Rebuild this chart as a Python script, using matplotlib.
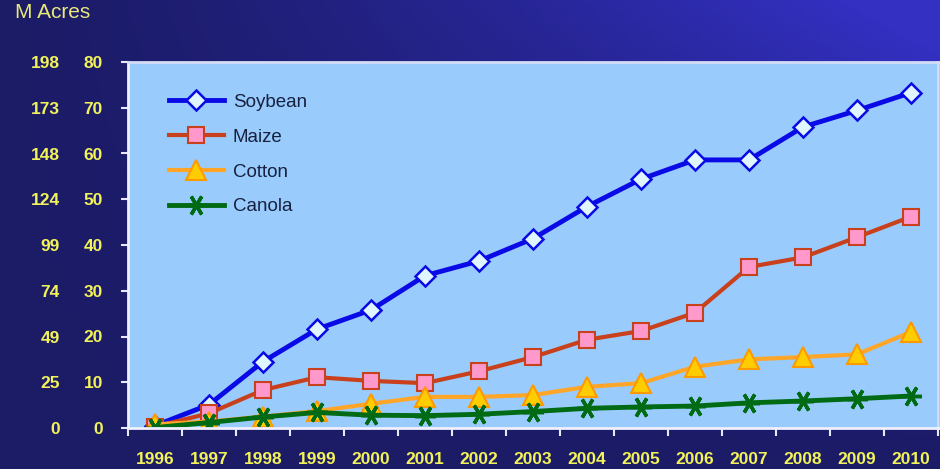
import numpy as np
import matplotlib.pyplot as plt

# Area plantada com cultivos transgenicos (milhoes de hectares)
anos = ['1996', '1997', '1998', '1999', '2000', '2001', '2002', '2003',
        '2004', '2005', '2006', '2007', '2008', '2009', '2010']
soja = [0.5, 5.1, 14.5, 21.6, 25.8, 33.3, 36.5, 41.4, 48.4, 54.4, 58.6, 58.6, 65.8, 69.4, 73.3]
milho = [0.3, 3.2, 8.3, 11.1, 10.3, 9.8, 12.4, 15.5, 19.3, 21.2, 25.2, 35.2, 37.3, 41.7, 46.2]
algodao = [0.8, 1.4, 2.5, 3.7, 5.3, 6.8, 6.8, 7.2, 9.0, 9.8, 13.4, 15.0, 15.5, 16.1, 21.0]
canola = [0.1, 1.2, 2.4, 3.4, 2.8, 2.7, 3.0, 3.6, 4.3, 4.6, 4.8, 5.5, 5.9, 6.4, 7.0]

ticksHa = [0, 10, 20, 30, 40, 50, 60, 70, 80]
ticksAcres = ['0', '25', '49', '74', '99', '124', '148', '173', '198']

amarelo = '#f2f25a'
fonte = 'Liberation Sans'

fig = plt.figure(figsize=(9.4, 4.69), dpi=100)

# fundo degradê azul escuro -> azul mais claro no canto superior direito
gx, gy = np.meshgrid(np.linspace(0, 1, 300), np.linspace(0, 1, 150))
t = np.clip(gx ** 1.3 * (1 - gy) ** 1.2 * 1.15, 0, 1)
escuro = np.array([0x1b, 0x1b, 0x66]) / 255.0
claro = np.array([0x33, 0x30, 0xc2]) / 255.0
grad = escuro[None, None, :] * (1 - t[..., None]) + claro[None, None, :] * t[..., None]
bg = fig.add_axes([0, 0, 1, 1], zorder=-10)
bg.imshow(grad, aspect='auto', extent=[0, 1, 0, 1], origin='upper')
bg.axis('off')

ax = fig.add_axes([128 / 940, 1 - 428 / 469, 810 / 940, 366 / 469])
ax.set_facecolor('#99ccfc')

x = np.arange(len(anos))
ax.plot(x, soja, color='#0a0ae6', lw=3.5, marker='D', ms=10,
        mfc='#dff6ff', mec='#0a0ae6', mew=1.8, label='Soybean')
ax.plot(x, milho, color='#c8401c', lw=3, marker='s', ms=12,
        mfc='#ff99cc', mec='#c8401c', mew=1.5, label='Maize')
ax.plot(x, algodao, color='#ffa528', lw=3, marker='^', ms=14,
        mfc='#ffcc00', mec='#ff9900', mew=1.5, label='Cotton')
ax.plot(x, canola, color='#006b14', lw=3.5, marker=(6, 2, 30), ms=15,
        mec='#006b14', mew=2.5, label='Canola')

ax.set_xlim(-0.5, len(anos) - 0.5)
ax.set_ylim(0, 80)

ax.set_xticks(x)
ax.set_xticklabels(anos)
ax.set_xticks(np.arange(len(anos) + 1) - 0.5, minor=True)
ax.tick_params(axis='x', which='major', length=0, pad=17, colors=amarelo,
               labelsize=12.5)
ax.tick_params(axis='x', which='minor', length=6, width=1.5, color='#e8e8f8',
               direction='out')

ax.set_yticks(ticksHa)
ax.tick_params(axis='y', length=5, width=1.5, color='#e8e8f8', pad=13,
               labelcolor=amarelo, labelsize=12.5)
for lb in ax.get_xticklabels() + ax.get_yticklabels():
    lb.set_fontweight('bold')
    lb.set_family(fonte)

# segundo eixo com os valores em acres
sec = ax.secondary_yaxis('left')
sec.set_yticks(ticksHa)
sec.set_yticklabels(ticksAcres)
sec.tick_params(axis='y', length=0, pad=49, labelcolor=amarelo, labelsize=12.5)
for lb in sec.get_yticklabels():
    lb.set_fontweight('bold')
    lb.set_family(fonte)
sec.spines['left'].set_visible(False)

for lado in ['left', 'bottom']:
    ax.spines[lado].set_color('#f0f0ff')
    ax.spines[lado].set_linewidth(2)
for lado in ['top', 'right']:
    ax.spines[lado].set_color('#d4dcf6')
    ax.spines[lado].set_linewidth(2)

leg = ax.legend(loc='upper left', bbox_to_anchor=(0.03, 0.96), frameon=False,
                handlelength=2.9, labelspacing=0.95, handletextpad=0.5,
                prop={'family': fonte, 'size': 13.5})
for txt in leg.get_texts():
    txt.set_color('#17203f')

fig.text(15 / 940, 1 - 12 / 469, 'M Acres', color='#e8e87a', fontsize=15,
         family=fonte, va='center', ha='left')

fig.savefig('out.png', dpi=100)
